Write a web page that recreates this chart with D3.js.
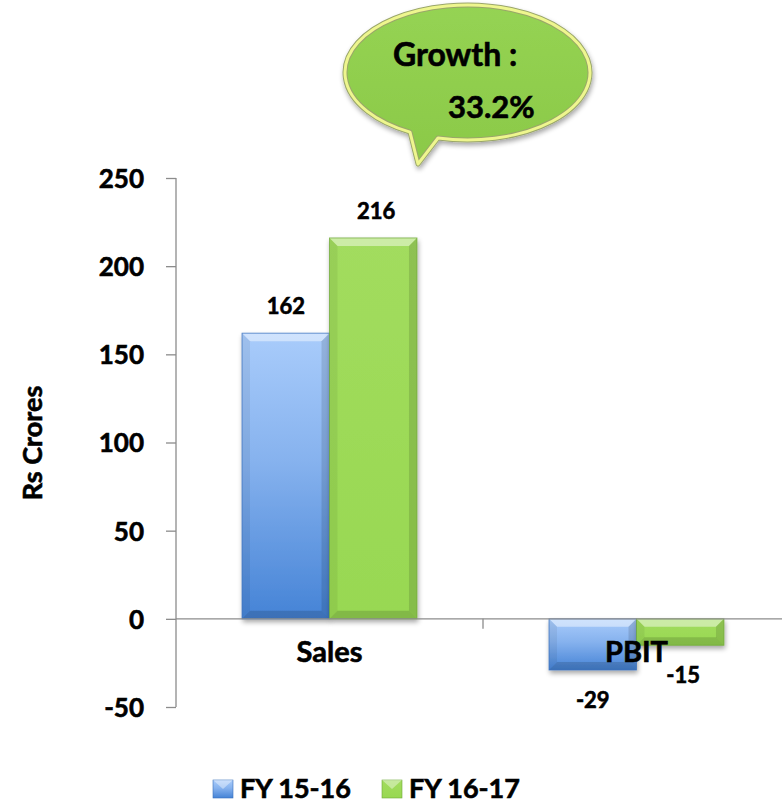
<!DOCTYPE html>
<html><head><meta charset="utf-8">
<script src="https://cdn.jsdelivr.net/npm/d3@7"></script>
<style>body{margin:0;background:#fff}svg{display:block}text{font-family:Lato,"Open Sans",sans-serif;font-weight:bold;fill:#000;stroke:#000;stroke-width:0.6px}</style>
</head><body><svg id="c" width="782" height="803"></svg>
<script>
const categories = ["Sales", "PBIT"];
const seriesNames = ["FY 15-16", "FY 16-17"];
const fy1516 = [162, -29];
const fy1617 = [216, -15];
const yTicks = [-50, 0, 50, 100, 150, 200, 250];
const yTitle = "Rs Crores";
const calloutLines = ["Growth :", "33.2%"];

const seriesValues = [fy1516, fy1617];
const svg = d3.select("#c");
const defs = svg.append("defs");

function vgrad(id, stops){
  const g = defs.append("linearGradient").attr("id", id).attr("x1",0).attr("y1",0).attr("x2",0).attr("y2",1);
  stops.forEach(s=>g.append("stop").attr("offset",s[0]).attr("stop-color",s[1]));
}
vgrad("gBlue", [[0,"#a9ccfb"],[0.45,"#86b2ee"],[1,"#4583d6"]]);
vgrad("gGreen", [[0,"#a2dc5e"],[1,"#98d852"]]);
vgrad("gBubble", [[0,"#95d353"],[1,"#8bc948"]]);
const f = defs.append("filter").attr("id","sh").attr("x","-20%").attr("y","-20%").attr("width","140%").attr("height","150%");
f.append("feGaussianBlur").attr("in","SourceAlpha").attr("stdDeviation",2.5);
f.append("feOffset").attr("dx",1).attr("dy",3).attr("result","b");
f.append("feComponentTransfer").append("feFuncA").attr("type","linear").attr("slope",0.35);
const fm = f.append("feMerge"); fm.append("feMergeNode"); fm.append("feMergeNode").attr("in","SourceGraphic");

const fills = ["url(#gBlue)", "url(#gGreen)"];
const edge = ["#3a70bb", "#6fa83a"];

const y = d3.scaleLinear().domain([-50, 250]).range([707, 178]);
const x0 = d3.scaleBand().domain(categories).range([176, 790]).padding(0);
const x1 = d3.scaleBand().domain(seriesNames).range([0, x0.bandwidth()]).paddingOuter(0.755).paddingInner(0);

const yAxis = d3.axisLeft(y).tickValues(yTicks).tickSize(10).tickPadding(22).tickFormat(d => String(d));
const ya = svg.append("g").attr("transform","translate(176,0)").call(yAxis);
ya.select(".domain").remove();
ya.selectAll(".tick line").attr("stroke","#8c8c8c").attr("stroke-width",1.3);
ya.selectAll(".tick text").style("font-size","26px").attr("dy","0.36em");
svg.append("line").attr("x1",176).attr("x2",176).attr("y1",y(250)).attr("y2",y(-50)).attr("stroke","#8c8c8c").attr("stroke-width",1.3);

function bevelBar(g, xL, w, v, si){
  const top = Math.min(y(v), y(0)), h = Math.abs(y(v) - y(0));
  const bg = g.append("g").attr("filter","url(#sh)");
  bg.append("rect").attr("x",xL).attr("y",top).attr("width",w).attr("height",h).attr("fill",fills[si]);
  const b = Math.min(8, h/3);
  bg.append("path").attr("d",`M${xL},${top}L${xL+w},${top}L${xL+w-b},${top+b}L${xL+b},${top+b}Z`).attr("fill","#fff").attr("opacity",0.45);
  bg.append("path").attr("d",`M${xL},${top}L${xL+b},${top+b}L${xL+b},${top+h-b}L${xL},${top+h}Z`).attr("fill","#000").attr("opacity",0.06);
  bg.append("path").attr("d",`M${xL+w},${top}L${xL+w-b},${top+b}L${xL+w-b},${top+h-b}L${xL+w},${top+h}Z`).attr("fill","#000").attr("opacity",0.12);
  bg.append("path").attr("d",`M${xL},${top+h}L${xL+b},${top+h-b}L${xL+w-b},${top+h-b}L${xL+w},${top+h}Z`).attr("fill","#000").attr("opacity",0.14);
  bg.append("rect").attr("x",xL).attr("y",top).attr("width",w).attr("height",h).attr("fill","none").attr("stroke",edge[si]).attr("stroke-width",0.9).attr("opacity",0.8);
}

const bars = svg.append("g");
categories.forEach((c, ci)=>{
  seriesNames.forEach((s, si)=>{
    bevelBar(bars, x0(c)+x1(s), x1.bandwidth(), seriesValues[si][ci], si);
  });
});

svg.append("line").attr("x1",176).attr("x2",782).attr("y1",y(0)).attr("y2",y(0)).attr("stroke","#8c8c8c").attr("stroke-width",1.3);
categories.forEach((c,i)=>{
  if(i>0) svg.append("line").attr("x1",x0(c)).attr("x2",x0(c)).attr("y1",y(0)).attr("y2",y(0)+10).attr("stroke","#8c8c8c").attr("stroke-width",1.3);
  svg.append("text").attr("x",x0(c)+x0.bandwidth()/2).attr("y",y(0)+43).attr("text-anchor","middle").style("font-size","29px").text(c);
});

categories.forEach((c, ci)=>{
  seriesNames.forEach((s, si)=>{
    const v = seriesValues[si][ci];
    const cx = x0(c)+x1(s)+x1.bandwidth()/2 + (si===1?3:0);
    const ty = v>=0 ? y(v)-19 : y(v)+38;
    svg.append("text").attr("x",cx).attr("y",ty).attr("text-anchor","middle").style("font-size","22px").text(v);
  });
});

svg.append("text").attr("transform","translate(42,443) rotate(-90)").attr("text-anchor","middle").style("font-size","27px").text(yTitle);

const legX = [213, 382];
seriesNames.forEach((s,si)=>{
  const lg = svg.append("g").attr("transform",`translate(${legX[si]},780)`);
  lg.append("rect").attr("width",20).attr("height",18).attr("fill",fills[si]).attr("stroke",edge[si]).attr("stroke-width",0.6);
  lg.append("path").attr("d","M0,0L20,0L10,9Z").attr("fill","#fff").attr("opacity",0.4);
  lg.append("text").attr("x",27).attr("y",18).style("font-size","27px").text(s);
});

const cx = 467.5, cy = 72.5, rx = 122.5, ry = 67.5;
const ax = 410, bx = 438;
const ay = cy + ry*Math.sqrt(1-Math.pow((ax-cx)/rx,2));
const by = cy + ry*Math.sqrt(1-Math.pow((bx-cx)/rx,2));
const bubblePath = `M${ax},${ay}A${rx},${ry} 0 1 1 ${bx},${by}L418,164Z`;
const bub = svg.append("g").attr("filter","url(#sh)");
bub.append("path").attr("d",bubblePath).attr("fill","url(#gBubble)").attr("stroke","#9aa66a").attr("stroke-width",5).attr("stroke-linejoin","round");
bub.append("path").attr("d",bubblePath).attr("fill","none").attr("stroke","#eef68e").attr("stroke-width",3).attr("stroke-linejoin","round");
svg.append("text").attr("x",393).attr("y",66).style("font-size","32px").text(calloutLines[0]);
svg.append("text").attr("x",448).attr("y",118).style("font-size","31px").text(calloutLines[1]);
</script></body></html>
